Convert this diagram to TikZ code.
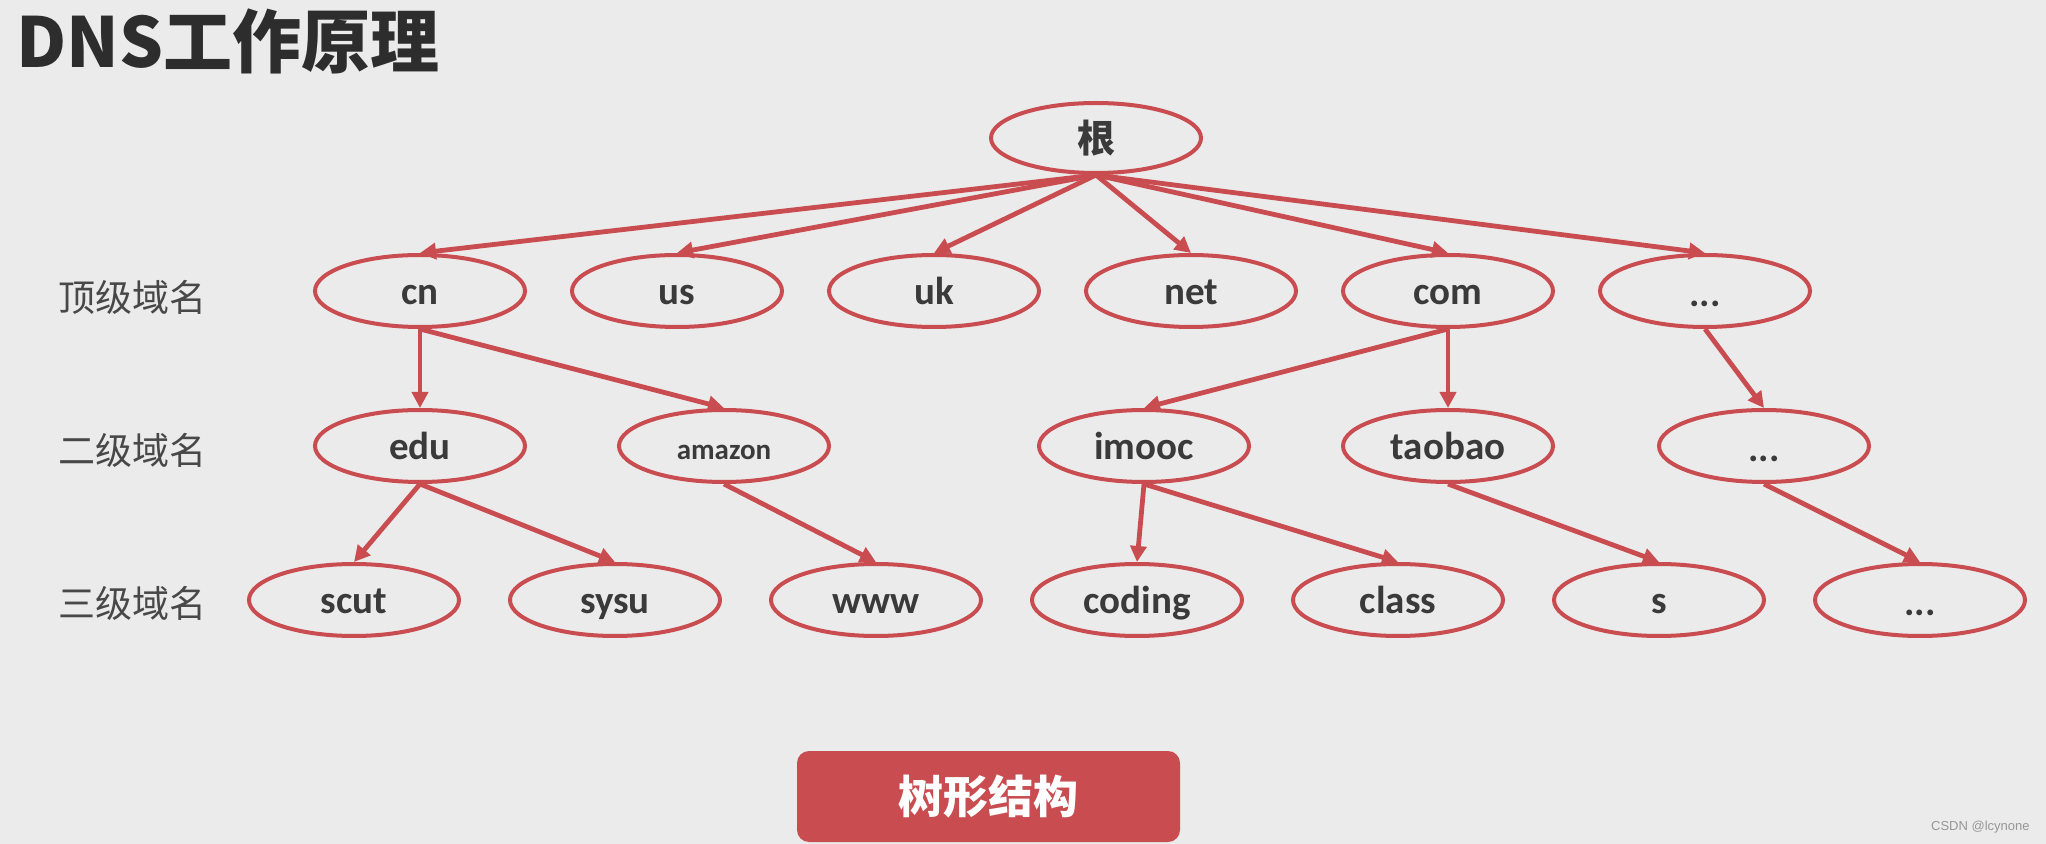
\documentclass[tikz,border=0pt]{standalone}
\usepackage{fontspec}
\setmainfont{Carlito}
\newfontfamily\cjk{Noto Sans CJK SC}
\newfontfamily\marksans{Liberation Sans}
\usetikzlibrary{
  arrows.meta,
  positioning,
  shapes.geometric
}
\definecolor{DnsRed}{RGB}{201,76,80}
\definecolor{SlideGray}{RGB}{235,235,235}
\definecolor{InkGray}{RGB}{58,58,58}
\definecolor{TitleGray}{RGB}{45,45,45}
\definecolor{LabelGray}{RGB}{72,72,72}
\definecolor{MarkGray}{RGB}{150,150,150}
\tikzset{
  dnsnode/.style={
    draw=DnsRed,
    line width=2pt,
    ellipse,
    minimum width=105pt,
    minimum height=36pt,
    inner sep=0pt,
    text height=15.5pt,
    text depth=2pt,
    text=InkGray,
    font=\fontsize{19.5}{22}\selectfont\bfseries
  },
  rootnode/.style={dnsnode,minimum height=35pt,text height=16pt,text depth=1.6pt,font=\cjk\fontsize{19}{22}\selectfont\bfseries},
  smallname/.style={font=\fontsize{14.5}{17}\selectfont\bfseries},
  levellabel/.style={anchor=east,inner sep=0pt,text=LabelGray,font=\cjk\fontsize{18.5}{22}\selectfont},
  tagbox/.style={
    fill=DnsRed,
    rounded corners=6pt,
    minimum width=191.5pt,
    minimum height=45.5pt,
    text=white,
    font=\cjk\fontsize{22.5}{26}\selectfont\bfseries
  },
  arrow/.style={-{Triangle[length=8pt,width=8pt]},line width=2.4pt,draw=DnsRed}
}
\newcommand{\moredots}{\raisebox{-1pt}{...}}

\begin{document}
\begin{tikzpicture}[x=1pt, y=1pt, node distance=39.5pt and 21.5pt]
  \fill[SlideGray] (0,0) rectangle (1023,-422);
  \useasboundingbox (0,0) rectangle (1023,-422);

  \node[anchor=west, inner sep=0pt, text=TitleGray, font=\cjk\fontsize{34.5}{40}\selectfont\bfseries] (title) at (8,-20.5) {DNS工作原理};

  % root and top level
  \node[rootnode] (root) at (548,-69) {根};
  \node[dnsnode] (cn) at (210,-145.5) {cn};
  \node[dnsnode, right=of cn] (us) {us};
  \node[dnsnode, right=of us] (uk) {uk};
  \node[dnsnode, right=of uk] (net) {net};
  \node[dnsnode, right=of net] (com) {com};
  \node[dnsnode, right=of com] (etcA) {\moredots};

  % second level
  \node[dnsnode, below=of cn] (edu) {edu};
  \node[dnsnode, smallname, right=45pt of edu] (amazon) {amazon};
  \node[dnsnode, below=of com] (taobao) {taobao};
  \node[dnsnode, left=45pt of taobao] (imooc) {imooc};
  \node[dnsnode, right=51pt of taobao] (etcB) {\moredots};

  % third level
  \node[dnsnode] (scut) at (177,-300) {scut};
  \node[dnsnode, right=23.5pt of scut] (sysu) {sysu};
  \node[dnsnode, right=23.5pt of sysu] (www) {www};
  \node[dnsnode, right=23.5pt of www] (coding) {coding};
  \node[dnsnode, right=23.5pt of coding] (class) {class};
  \node[dnsnode, right=23.5pt of class] (s) {s};
  \node[dnsnode, right=23.5pt of s] (etcC) {\moredots};

  \node[levellabel] (top) at (103.5,-148.5) {顶级域名};
  \node[levellabel] (second) at (103.5,-225) {二级域名};
  \node[levellabel] (third) at (103.5,-301.5) {三级域名};

  \draw[arrow] (root.south) -- (cn.north);
  \draw[arrow] (root.south) -- (us.north);
  \draw[arrow] (root.south) -- (uk.north);
  \draw[arrow] (root.south) -- (net.north);
  \draw[arrow] (root.south) -- (com.north);
  \draw[arrow] (root.south) -- (etcA.north);

  \draw[arrow] (cn.south) -- (edu.north);
  \draw[arrow] (cn.south) -- (amazon.north);
  \draw[arrow] (com.south) -- (imooc.north);
  \draw[arrow] (com.south) -- (taobao.north);
  \draw[arrow] (etcA.south) -- (etcB.north);

  \draw[arrow] (edu.south) -- (scut.north);
  \draw[arrow] (edu.south) -- (sysu.north);
  \draw[arrow] (amazon.south) -- (www.north);
  \draw[arrow] (imooc.south) -- (coding.north);
  \draw[arrow] (imooc.south) -- (class.north);
  \draw[arrow] (taobao.south) -- (s.north);
  \draw[arrow] (etcB.south) -- (etcC.north);

  \node[tagbox] (tag) at (494.25,-398.25) {树形结构};
  \node[anchor=east, inner sep=0pt, text=MarkGray, font=\marksans\fontsize{6.5}{8}\selectfont] (mark) at (1015,-413.5) {CSDN @lcynone};
\end{tikzpicture}
\end{document}
